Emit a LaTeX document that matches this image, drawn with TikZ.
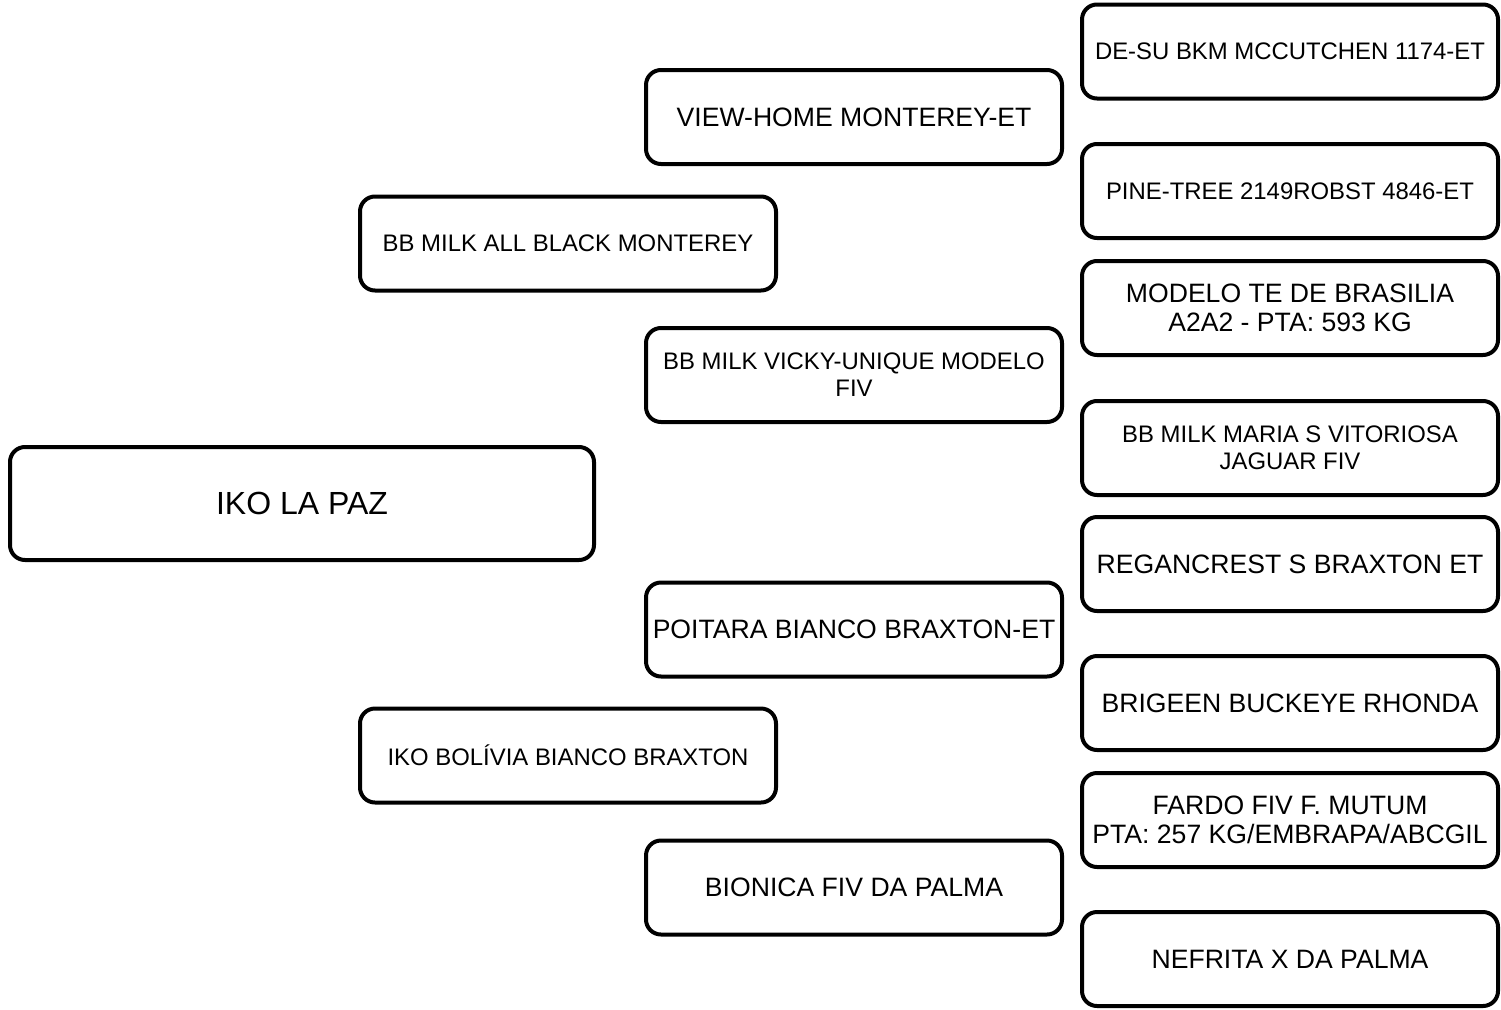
\documentclass[tikz,border=0pt]{standalone}
\usepackage{fontspec}
\setmainfont{Liberation Sans}
\usetikzlibrary{positioning}

\tikzset{
  animalbox/.style={draw, line width=4pt, rounded corners=15pt, fill=white,
    inner sep=0pt, align=center, minimum width=416pt, minimum height=94pt},
  bigtext/.style={font=\fontsize{26.6}{29}\selectfont},
  smalltext/.style={font=\fontsize{23.9}{27}\selectfont}
}

\begin{document}
\begin{tikzpicture}[x=1pt, y=-1pt]
  \useasboundingbox (0,0) rectangle (1501,1009);

  % the animal itself
  \node[animalbox, minimum width=584pt, minimum height=113pt, font=\fontsize{32}{36}\selectfont] (animal) at (302,503.5) {IKO LA PAZ};

  % parents
  \node[animalbox, smalltext] (sire) at (568,243.5) {BB MILK ALL BLACK MONTEREY};
  \node[animalbox, smalltext] (dam) at (568,755.5) {IKO BOLÍVIA BIANCO BRAXTON};

  % grandparents
  \node[animalbox, bigtext] (ss) at (854,117) {VIEW-HOME MONTEREY-ET};
  \node[animalbox, smalltext] (sd) at (854,375) {BB MILK VICKY-UNIQUE MODELO\\FIV};
  \node[animalbox, bigtext] (ds) at (854,629.5) {POITARA BIANCO BRAXTON-ET};
  \node[animalbox, bigtext] (dd) at (854,887.5) {BIONICA FIV DA PALMA};

  % great-grandparents
  \node[animalbox, smalltext] (sss) at (1290,51.5) {DE-SU BKM MCCUTCHEN 1174-ET};
  \node[animalbox, smalltext] (ssd) at (1290,191) {PINE-TREE 2149ROBST 4846-ET};
  \node[animalbox, bigtext] (sds) at (1290,308) {MODELO TE DE BRASILIA\\A2A2 - PTA: 593 KG};
  \node[animalbox, smalltext] (sdd) at (1290,448) {BB MILK MARIA S VITORIOSA\\JAGUAR FIV};
  \node[animalbox, bigtext] (dss) at (1290,564) {REGANCREST S BRAXTON ET};
  \node[animalbox, bigtext] (dsd) at (1290,703) {BRIGEEN BUCKEYE RHONDA};
  \node[animalbox, bigtext] (dds) at (1290,820) {FARDO FIV F. MUTUM\\PTA: 257 KG/EMBRAPA/ABCGIL};
  \node[animalbox, bigtext] (ddd) at (1290,959) {NEFRITA X DA PALMA};
\end{tikzpicture}
\end{document}
